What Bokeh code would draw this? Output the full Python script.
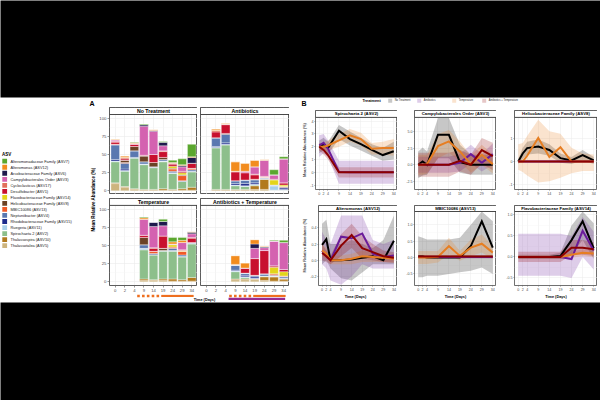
import math
from bokeh.plotting import figure
from bokeh.models import (Range1d, FixedTicker, ColumnDataSource, Spacer,
                          LinearAxis, Grid, PrintfTickFormatter)
from bokeh.layouts import row, column
from bokeh.embed import file_html
from bokeh.resources import INLINE
from bokeh.core.properties import value

FONT = "Liberation Sans"

# ---------------- data ----------------
DAYS = [0, 2, 4, 9, 14, 19, 24, 29, 34]
DAY_LABELS = ["0", "2", "4", "9", "14", "19", "24", "29", "34"]

ASV_KEYS = ["ASV7", "ASV12", "ASV6", "ASV3", "ASV17", "ASV1", "ASV14", "ASV8",
            "ASV13", "ASV4", "ASV15", "ASV11", "ASV2", "ASV10", "ASV5"]
ASV_NAMES = ["Alteromonadaceae Family (ASV7)", "Alteromonas (ASV12)",
             "Arcobacteraceae Family (ASV6)", "Campylobacterales Order (ASV3)",
             "Cycloclasticus (ASV17)", "Desulfobacter (ASV1)",
             "Flavobacteriaceae Family (ASV14)", "Helicobacteraceae Family (ASV8)",
             "MBIC10086 (ASV13)", "Neptuniibacter (ASV4)",
             "Rhodobacteraceae Family (ASV15)", "Ruegeria (ASV11)",
             "Spirochaeta 2 (ASV2)", "Thalassospira (ASV10)", "Thalassotalea (ASV5)"]
ASV_COLORS = ["#5ba72f", "#f28c1e", "#1f1a4d", "#d462b0", "#e2705c", "#c8102e",
              "#e3d41a", "#6b4226", "#f05a28", "#5a78b0", "#1c2a8c", "#a8cfea",
              "#8dbf8b", "#b27a1e", "#cdb47e"]

NO_TREATMENT = {
    "ASV5":  [10, 5, 2, 1, 1, 1, 1, 1, 1],
    "ASV10": [1, 1, 1, 1, 1, 2, 1, 2, 4],
    "ASV2":  [29, 21, 42, 34, 30, 37, 22, 10, 21],
    "ASV11": [1, 1, 1, 1, 0, 1, 1, 0, 1],
    "ASV15": [2, 2, 0, 0, 0, 0, 0, 0, 0],
    "ASV4":  [20, 8, 9, 3, 1, 2, 2, 1, 2],
    "ASV13": [1, 1, 0, 0, 0, 0, 3, 7, 2],
    "ASV8":  [0, 3, 6, 8, 6, 3, 1, 1, 0],
    "ASV14": [0, 0, 0, 0, 0, 0, 3, 3, 0],
    "ASV1":  [3, 2, 3, 1, 11, 8, 3, 2, 7],
    "ASV17": [1, 2, 0, 0, 0, 1, 0, 0, 0],
    "ASV3":  [2, 0, 1, 40, 32, 7, 1, 6, 0],
    "ASV6":  [0, 0, 0, 2, 1, 5, 0, 2, 8],
    "ASV12": [1, 2, 1, 0, 1, 0, 1, 1, 1],
    "ASV7":  [0, 0, 1, 1, 0, 1, 3, 8, 17],
}
ANTIBIOTICS = {
    "ASV5":  [0, 1, 1, 1, 1, 2, 2, 1, 1],
    "ASV10": [0, 1, 1, 1, 1, 5, 14, 0, 0],
    "ASV2":  [0, 57, 61, 5, 4, 1, 0, 0, 0],
    "ASV11": [0, 1, 1, 1, 1, 1, 1, 6, 1],
    "ASV15": [0, 1, 2, 2, 3, 2, 0, 0, 2],
    "ASV4":  [0, 12, 12, 4, 5, 4, 1, 1, 1],
    "ASV13": [0, 0, 0, 0, 0, 1, 1, 0, 1],
    "ASV8":  [0, 0, 1, 0, 0, 0, 0, 0, 0],
    "ASV14": [0, 0, 0, 0, 0, 0, 0, 7, 2],
    "ASV1":  [0, 8, 12, 12, 10, 6, 1, 1, 3],
    "ASV17": [0, 2, 1, 1, 0, 1, 0, 0, 0],
    "ASV3":  [0, 0, 0, 0, 2, 10, 22, 6, 33],
    "ASV6":  [0, 0, 0, 0, 0, 0, 0, 0, 0],
    "ASV12": [0, 2, 1, 13, 11, 9, 1, 0, 0],
    "ASV7":  [0, 0, 0, 0, 0, 0, 0, 7, 3],
}
TEMPERATURE = {
    "ASV5":  [0, 0, 0, 2, 2, 2, 1, 1, 1],
    "ASV10": [0, 0, 0, 2, 1, 2, 3, 2, 5],
    "ASV2":  [0, 0, 0, 40, 34, 38, 38, 31, 46],
    "ASV11": [0, 0, 0, 2, 0, 1, 1, 1, 1],
    "ASV15": [0, 0, 0, 0, 1, 0, 0, 0, 0],
    "ASV4":  [0, 0, 0, 5, 1, 0, 3, 2, 1],
    "ASV13": [0, 0, 0, 0, 3, 0, 2, 5, 0],
    "ASV8":  [0, 0, 0, 10, 0, 3, 0, 0, 0],
    "ASV14": [0, 0, 0, 0, 0, 0, 3, 1, 0],
    "ASV1":  [0, 0, 0, 3, 4, 17, 1, 1, 6],
    "ASV17": [0, 0, 0, 0, 1, 0, 0, 0, 1],
    "ASV3":  [0, 0, 0, 22, 29, 14, 0, 10, 5],
    "ASV6":  [0, 0, 0, 0, 6, 6, 0, 0, 2],
    "ASV12": [0, 0, 0, 2, 0, 0, 3, 3, 1],
    "ASV7":  [0, 0, 0, 1, 0, 3, 6, 4, 0],
}
ANTIBIOTICS_TEMP = {
    "ASV5":  [0, 0, 0, 3, 3, 3, 2, 1, 1],
    "ASV10": [0, 0, 0, 1, 1, 1, 5, 6, 3],
    "ASV2":  [0, 0, 0, 10, 2, 0, 1, 0, 0],
    "ASV11": [0, 0, 0, 1, 1, 1, 0, 1, 1],
    "ASV15": [0, 0, 0, 1, 2, 2, 0, 0, 0],
    "ASV4":  [0, 0, 0, 7, 3, 2, 3, 1, 2],
    "ASV13": [0, 0, 0, 0, 0, 0, 0, 2, 1],
    "ASV8":  [0, 0, 0, 0, 0, 0, 0, 0, 0],
    "ASV14": [0, 0, 0, 0, 0, 0, 0, 9, 6],
    "ASV1":  [0, 0, 0, 1, 7, 23, 32, 2, 3],
    "ASV17": [0, 0, 0, 0, 0, 0, 0, 0, 0],
    "ASV3":  [0, 0, 0, 0, 0, 14, 4, 34, 37],
    "ASV6":  [0, 0, 0, 0, 0, 6, 1, 0, 0],
    "ASV12": [0, 0, 0, 12, 7, 6, 1, 0, 0],
    "ASV7":  [0, 0, 0, 0, 0, 0, 0, 1, 3],
}

# treatment periods (panel A x-axis, category-index units)
TEMP_PULSE_POS = [2.5, 3.0, 3.5, 4.0, 4.5]
TEMP_CONT_SPAN = [4.85, 8.2]
ANTIBIOTIC_SPAN = [2.3, 8.15]

TREATMENTS = ["No Treatment", "Antibiotics", "Temperature", "Antibiotics + Temperature"]
TREAT_COLORS = ["#000000", "#6a1b9a", "#e67e22", "#8b0000"]

# panel B: (mean, lower, upper) per treatment
SPIRO = {
    "No Treatment": ([2.0, 2.2, 1.9, 3.25, 2.6, 2.2, 1.75, 1.35, 1.65],
                     [1.5, 1.7, 1.4, 2.6, 2.1, 1.7, 1.3, 0.9, 1.0],
                     [2.5, 2.7, 2.4, 3.7, 3.2, 2.7, 2.2, 1.9, 2.4]),
    "Antibiotics": ([2.1, 2.3, 1.85, 0.02, 0.0, 0.0, 0.0, 0.0, 0.0],
                    [1.2, 1.5, 1.2, -0.9, -0.9, -0.9, -0.9, -0.9, -0.9],
                    [2.9, 3.0, 2.5, 0.9, 0.9, 0.9, 0.9, 0.9, 0.9]),
    "Temperature": ([2.0, 2.0, 2.1, 2.5, 2.9, 2.6, 1.85, 1.9, 1.9],
                    [1.7, 1.7, 1.7, 2.0, 2.4, 2.1, 1.4, 1.4, 1.3],
                    [2.3, 2.3, 2.5, 3.0, 3.4, 3.1, 2.3, 2.4, 2.6]),
    "Antibiotics + Temperature": ([2.0, 1.75, 1.35, 0.0, 0.0, 0.0, 0.0, 0.0, 0.0],
                                  [1.7, 1.4, 1.0, -0.4, -0.4, -0.4, -0.4, -0.4, -0.4],
                                  [2.3, 2.1, 1.7, 0.4, 0.4, 0.4, 0.4, 0.4, 0.4]),
}
CAMPY = {
    "No Treatment": ([0.0, 0.5, 0.0, 4.5, 4.5, 0.4, 0.0, 0.0, 0.0],
                     [-2.0, -1.6, -1.5, 1.0, 1.0, -1.2, -1.5, -1.5, -1.5],
                     [2.0, 2.6, 2.0, 7.0, 7.0, 3.0, 1.5, 1.5, 1.5]),
    "Antibiotics": ([0.0, 0.0, 0.0, 0.0, 0.0, 0.3, 1.6, 0.3, 1.6],
                    [-1.2, -1.2, -1.2, -1.2, -1.2, -1.0, 0.2, -1.0, 0.0],
                    [1.2, 1.2, 1.2, 1.2, 1.2, 1.6, 3.0, 1.6, 3.2]),
    "Temperature": ([0.0, 0.0, 0.1, 2.8, 3.5, 2.0, 0.1, 1.5, 0.1],
                    [-1.5, -1.5, -1.3, 1.0, 1.8, 0.5, -1.2, 0.0, -1.3],
                    [1.5, 1.5, 1.5, 4.6, 5.2, 3.5, 1.4, 3.0, 1.5]),
    "Antibiotics + Temperature": ([0.0, 0.0, 0.0, 0.0, 0.0, 0.6, 0.0, 2.2, 1.3],
                                  [-1.8, -1.8, -1.8, -1.8, -1.8, -1.0, -1.5, 0.2, -0.8],
                                  [1.8, 1.8, 1.8, 1.8, 1.8, 2.2, 1.5, 4.0, 3.3]),
}
HELICO = {
    "No Treatment": ([0.0, 0.35, 0.58, 0.65, 0.5, 0.15, 0.05, 0.28, 0.05],
                     [-0.1, 0.1, 0.3, 0.35, 0.25, -0.05, -0.1, 0.05, -0.1],
                     [0.1, 0.6, 0.85, 0.95, 0.75, 0.35, 0.2, 0.5, 0.2]),
    "Antibiotics": ([0, 0, 0, 0, 0, 0, 0, 0, 0],
                    [0, 0, 0, 0, 0, 0, 0, 0, 0],
                    [0, 0, 0, 0, 0, 0, 0, 0, 0]),
    "Temperature": ([0.0, 0.0, 0.25, 1.02, 0.2, 0.62, 0.0, 0.0, 0.0],
                    [-0.35, -0.45, -0.6, -0.9, -0.85, -0.7, -0.5, -0.4, -0.4],
                    [0.75, 0.8, 1.1, 1.8, 1.3, 1.2, 0.6, 0.35, 0.3]),
    "Antibiotics + Temperature": ([0, 0, 0, 0, 0, 0, 0, 0, 0],
                                  [0, 0, 0, 0, 0, 0, 0, 0, 0],
                                  [0, 0, 0, 0, 0, 0, 0, 0, 0]),
}
ALTERO = {
    "No Treatment": ([0.19, 0.26, 0.0, 0.0, 0.01, 0.03, 0.05, 0.0, 0.24],
                     [-0.05, 0.0, -0.1, -0.22, -0.25, -0.15, -0.05, -0.05, -0.05],
                     [0.45, 0.5, 0.2, 0.2, 0.25, 0.2, 0.15, 0.25, 0.55]),
    "Antibiotics": ([0.12, 0.05, 0.0, 0.29, 0.27, 0.33, 0.08, 0.04, 0.06],
                    [-0.05, -0.1, -0.25, -0.3, -0.2, -0.05, -0.1, -0.1, -0.1],
                    [0.35, 0.25, 0.2, 0.55, 0.55, 0.55, 0.25, 0.2, 0.25]),
    "Temperature": ([0.12, 0.08, 0.0, 0.0, 0.02, 0.05, 0.04, 0.03, 0.02],
                    [0.05, 0.02, -0.05, -0.05, -0.05, -0.02, -0.02, -0.02, -0.03],
                    [0.2, 0.15, 0.05, 0.06, 0.08, 0.12, 0.1, 0.08, 0.07]),
    "Antibiotics + Temperature": ([0.09, 0.05, 0.0, 0.18, 0.31, 0.15, 0.1, 0.05, 0.03],
                                  [0.0, -0.02, -0.05, 0.05, 0.15, 0.02, 0.0, -0.02, -0.03],
                                  [0.2, 0.12, 0.06, 0.32, 0.45, 0.3, 0.2, 0.12, 0.1]),
}
MBIC = {
    "No Treatment": ([0.03, 0.03, 0.0, 0.0, 0.0, 0.0, 0.35, 1.1, 0.3],
                     [-0.6, -0.6, -0.55, -0.55, -0.5, -0.45, -0.4, -0.3, -0.5],
                     [0.65, 0.6, 0.55, 0.55, 0.55, 0.6, 1.0, 1.4, 1.1]),
    "Antibiotics": ([0.02, 0.02, 0.02, 0.02, 0.02, 0.02, 0.02, 0.02, 0.02],
                    [-0.02, -0.02, -0.02, -0.02, -0.02, -0.02, -0.02, -0.02, -0.02],
                    [0.06, 0.06, 0.06, 0.06, 0.06, 0.06, 0.06, 0.06, 0.06]),
    "Temperature": ([0.0, 0.0, 0.0, 0.02, 0.35, 0.05, 0.3, 0.42, 0.15],
                    [-0.2, -0.2, -0.2, -0.15, 0.1, -0.1, 0.05, 0.15, -0.05],
                    [0.2, 0.2, 0.2, 0.2, 0.6, 0.2, 0.55, 0.7, 0.35]),
    "Antibiotics + Temperature": ([0.03, 0.03, 0.03, 0.03, 0.03, 0.03, 0.03, 0.03, 0.03],
                                  [-0.02, -0.02, -0.02, -0.02, -0.02, -0.02, -0.02, -0.02, -0.02],
                                  [0.08, 0.08, 0.08, 0.08, 0.08, 0.08, 0.08, 0.08, 0.08]),
}
FLAVO = {
    "No Treatment": ([0.0, 0.0, 0.0, 0.0, 0.0, 0.02, 0.4, 0.85, 0.2],
                     [-0.05, -0.05, -0.05, -0.05, -0.05, -0.05, 0.05, 0.4, -0.05],
                     [0.05, 0.05, 0.05, 0.05, 0.05, 0.1, 0.75, 1.08, 0.8]),
    "Antibiotics": ([0.0, 0.0, 0.0, 0.0, 0.0, 0.0, -0.05, 0.62, 0.15],
                    [-0.45, -0.45, -0.45, -0.45, -0.45, -0.45, -0.5, 0.0, -0.3],
                    [0.55, 0.55, 0.55, 0.55, 0.55, 0.55, 0.5, 0.95, 0.6]),
    "Temperature": ([0.0, 0.0, 0.0, 0.0, 0.0, 0.0, 0.05, 0.1, 0.08],
                    [-0.04, -0.04, -0.04, -0.04, -0.04, -0.04, -0.02, 0.02, 0.0],
                    [0.04, 0.04, 0.04, 0.04, 0.04, 0.04, 0.12, 0.18, 0.16]),
    "Antibiotics + Temperature": ([0.0, 0.0, 0.0, 0.0, 0.0, 0.0, 0.22, 0.22, 0.18],
                                  [-0.12, -0.12, -0.12, -0.12, -0.12, -0.12, 0.05, 0.05, 0.02],
                                  [0.12, 0.12, 0.12, 0.12, 0.12, 0.12, 0.4, 0.4, 0.35]),
}

# ---------------- helpers ----------------
STACK = list(reversed(ASV_KEYS))
COLOR_OF = dict(zip(ASV_KEYS, ASV_COLORS))


def base(w, h, xr=None, yr=None, bg="white"):
    return figure(width=w, height=h, toolbar_location=None, output_backend="svg",
                  x_range=xr if xr is not None else Range1d(0, w),
                  y_range=yr if yr is not None else Range1d(h, 0),
                  x_axis_type=None, y_axis_type=None, min_border=0,
                  background_fill_color=bg, border_fill_color=bg,
                  outline_line_color=None)


def style_axis(ax, fs):
    ax.major_label_text_font = FONT
    ax.major_label_text_font_size = fs
    ax.major_label_text_color = "#4d4d4d"
    ax.major_tick_out = 2
    ax.major_tick_in = 0
    ax.minor_tick_out = 0
    ax.minor_tick_in = 0
    ax.major_tick_line_color = "#333333"
    ax.major_tick_line_width = 0.5
    ax.axis_line_color = None
    ax.major_label_standoff = 1
    ax.axis_label_text_font = FONT
    ax.axis_label_text_font_style = "bold"
    ax.axis_label_text_font_size = "3.8px"
    ax.axis_label_standoff = 1


def add_strip(p, xlo, xhi, ybot, ytop, text, fs):
    p.quad(left=[xlo], right=[xhi], bottom=[ybot], top=[ytop],
           fill_color="white", line_color="#1a1a1a", line_width=0.8)
    p.text(x=[(xlo + xhi) / 2], y=[(ybot + ytop) / 2], text=[text],
           text_font=value(FONT), text_font_size=fs, text_font_style="bold",
           text_align="center", text_baseline="middle", text_color="black")


FW = 89          # facet frame width, panel A
XLO, XHI = -0.6, 8.6
YLO, YHI = -5, 105
PXU = FW / (XHI - XLO)     # pixels per category unit
A_LEFT = [108, 200]        # page x of the facet frames' left edges


def a_facet(bars, title, left_b, panel_h, strip_h, bottom_b, show_y, show_x):
    ytop = YHI + strip_h * (YHI - YLO) / panel_h
    p = base(left_b + FW, strip_h + panel_h + bottom_b,
             xr=Range1d(XLO, XHI), yr=Range1d(YLO, ytop))
    p.min_border_left = left_b
    p.min_border_bottom = bottom_b
    p.outline_line_color = "#333333"
    p.outline_line_width = 0.8
    p.add_layout(Grid(dimension=0, ticker=FixedTicker(ticks=list(range(9))),
                      grid_line_color="#ebebeb", grid_line_width=0.6))
    p.add_layout(Grid(dimension=1, ticker=FixedTicker(ticks=[0, 25, 50, 75, 100],
                                                      minor_ticks=[12.5, 37.5, 62.5, 87.5]),
                      grid_line_color="#ebebeb", grid_line_width=0.6,
                      minor_grid_line_color="#f4f4f4", minor_grid_line_width=0.4))
    xs = [i for i in range(9) if sum(bars[k][i] for k in ASV_KEYS) > 0]
    src = {"x": xs}
    for k in STACK:
        src[k] = [bars[k][i] for i in xs]
    p.vbar_stack(STACK, x="x", width=0.9, source=ColumnDataSource(src),
                 fill_color=[COLOR_OF[k] for k in STACK],
                 line_color="white", line_width=0.35)
    add_strip(p, XLO, XHI, YHI, ytop, title, "5.2px")
    if show_y:
        ax = LinearAxis(ticker=FixedTicker(ticks=[0, 25, 50, 75, 100]))
        style_axis(ax, "4.3px")
        p.add_layout(ax, "left")
    if show_x:
        ax = LinearAxis(ticker=FixedTicker(ticks=list(range(9))),
                        major_label_overrides={i: DAY_LABELS[i] for i in range(9)})
        style_axis(ax, "4.2px")
        p.add_layout(ax, "below")
    return p


BX = (-1.7, 35.7)


def b_panel(spec, title, yr, ticks, fmt, frame_w, left_b, panel_h, strip_h, bottom_b, ytitle):
    ylo, yhi = yr
    ytop = yhi + strip_h * (yhi - ylo) / panel_h
    p = base(left_b + frame_w, strip_h + panel_h + bottom_b,
             xr=Range1d(*BX), yr=Range1d(ylo, ytop))
    p.min_border_left = left_b
    p.min_border_bottom = bottom_b
    p.outline_line_color = "#333333"
    p.outline_line_width = 0.7
    minors = [(a + b) / 2 for a, b in zip(ticks[:-1], ticks[1:])]
    p.add_layout(Grid(dimension=0, ticker=FixedTicker(ticks=DAYS),
                      grid_line_color="#ebebeb", grid_line_width=0.5))
    p.add_layout(Grid(dimension=1, ticker=FixedTicker(ticks=ticks, minor_ticks=minors),
                      grid_line_color="#ebebeb", grid_line_width=0.5,
                      minor_grid_line_color="#f4f4f4", minor_grid_line_width=0.4))
    for t, c in zip(TREATMENTS, TREAT_COLORS):
        m, lo, hi = spec[t]
        p.varea(x=DAYS, y1=lo, y2=hi, fill_color=c, fill_alpha=0.22)
    for t, c in zip(TREATMENTS, TREAT_COLORS):
        m, lo, hi = spec[t]
        p.line(x=DAYS, y=m, line_color=c, line_width=2, line_join="miter")
    add_strip(p, BX[0], BX[1], yhi, ytop, title, "4.3px")
    ay = LinearAxis(ticker=FixedTicker(ticks=ticks), formatter=PrintfTickFormatter(format=fmt))
    style_axis(ay, "3.6px")
    ay.major_label_standoff = 1
    ay.major_tick_out = 1
    ay.axis_label_standoff = 0
    if ytitle:
        ay.axis_label = "Mean Relative Abundance (%)"
    p.add_layout(ay, "left")
    ax = LinearAxis(ticker=FixedTicker(ticks=DAYS))
    style_axis(ax, "3.6px")
    ax.major_label_standoff = 1
    ax.major_tick_out = 1
    p.add_layout(ax, "below")
    return p


# ---------------- top band: black + panel labels + treatment legend (page y 0..107) ----------------
top = base(600, 107)
top.quad(left=[-10], right=[610], top=[-10], bottom=[97], fill_color="black", line_color=None)
top.text(x=[91.5], y=[103.3], text=["A"], text_font=value(FONT), text_font_size="7px",
         text_font_style="bold", text_align="center", text_baseline="middle")
top.text(x=[303.5], y=[103.3], text=["B"], text_font=value(FONT), text_font_size="7px",
         text_font_style="bold", text_align="center", text_baseline="middle")
top.text(x=[362], y=[100.3], text=["Treatment"], text_font=value(FONT), text_font_size="3.8px",
         text_font_style="bold", text_align="left", text_baseline="middle")
SW_X = [389.7, 418.7, 453.7, 483.7]
top.rect(x=SW_X, y=100.3, width=4, height=4, fill_color=TREAT_COLORS, fill_alpha=0.22,
         line_color=None)
top.text(x=[s + 4.5 for s in SW_X], y=100.3, text=TREATMENTS, text_font=value(FONT),
         text_font_size="2.6px", text_baseline="middle", text_align="left", text_color="#1a1a1a")

# ---------------- middle (page y 107..294) ----------------
leg = base(96, 187)
leg_y = [53.7 + 6.03 * i for i in range(len(ASV_NAMES))]
leg.rect(x=4.2, y=leg_y, width=4.8, height=4.8, fill_color=ASV_COLORS, line_color=None)
leg.text(x=10, y=leg_y, text=ASV_NAMES, text_font=value(FONT), text_font_size="3.9px",
         text_baseline="middle", text_align="left", text_color="#1a1a1a")
leg.text(x=[1.5], y=[46.5], text=["ASV"], text_font=value(FONT), text_font_size="4.5px",
         text_font_style="bold", text_baseline="middle", text_align="left")
leg.text(x=[93], y=[92], text=["Mean Relative Abundance (%)"], text_font=value(FONT),
         text_font_size="4.5px", text_font_style="bold", angle=math.pi / 2,
         text_align="center", text_baseline="middle")

f_nt = a_facet(NO_TREATMENT, "No Treatment", 12, 80, 7, 0, True, False)
f_ab = a_facet(ANTIBIOTICS, "Antibiotics", 3, 80, 7, 0, False, False)
f_t = a_facet(TEMPERATURE, "Temperature", 12, 81, 7, 8, True, True)
f_abt = a_facet(ANTIBIOTICS_TEMP, "Antibiotics + Temperature", 3, 81, 7, 8, False, True)

a_grid = column(
    row(f_nt, f_ab, Spacer(width=11, height=87)),
    Spacer(width=204, height=4),
    row(f_t, f_abt, Spacer(width=11, height=96)),
)

COLW = [84, 82, 83]
COLB = [13, 17, 18]
p1 = b_panel(SPIRO, "Spirochaeta 2 (ASV2)", (-1.35, 4.3), [-1, 0, 1, 2, 3, 4], "%d",
             COLW[0], COLB[0], 73, 7, 7, True)
p2 = b_panel(CAMPY, "Campylobacterales Order (ASV3)", (-3.7, 7.1), [-2.5, 0, 2.5, 5.0], "%.1f",
             COLW[1], COLB[1], 73, 7, 7, False)
p3 = b_panel(HELICO, "Helicobacteraceae Family (ASV8)", (-1.2, 1.9), [-1, 0, 1], "%d",
             COLW[2], COLB[2], 73, 7, 7, False)
p4 = b_panel(ALTERO, "Alteromonas (ASV12)", (-0.31, 0.6), [-0.2, 0.0, 0.2, 0.4], "%.1f",
             COLW[0], COLB[0], 74, 6, 9, True)
p5 = b_panel(MBIC, "MBIC10086 (ASV13)", (-0.85, 1.4), [-0.5, 0.0, 0.5, 1.0], "%.1f",
             COLW[1], COLB[1], 74, 6, 9, False)
p6 = b_panel(FLAVO, "Flavobacteriaceae Family (ASV14)", (-0.68, 1.08), [-0.5, 0.0, 0.5, 1.0], "%.1f",
             COLW[2], COLB[2], 74, 6, 9, False)

b_grid = column(
    Spacer(width=300, height=3),
    row(p1, p2, p3, Spacer(width=3, height=87)),
    Spacer(width=300, height=8),
    row(p4, p5, p6, Spacer(width=3, height=89)),
)

# ---------------- bottom band: treatment marks, x titles, black (page y 294..400) ----------------
ORANGE = "#ee6f1f"
PURPLE = "#982b8f"
bottom = base(600, 106)
bottom.extra_x_ranges = {
    "temp": Range1d(XLO - A_LEFT[0] / PXU, XLO + (600 - A_LEFT[0]) / PXU),
    "abt": Range1d(XLO - A_LEFT[1] / PXU, XLO + (600 - A_LEFT[1]) / PXU),
}
bottom.quad(left=[-10], right=[610], top=[8], bottom=[120], fill_color="black", line_color=None)
for rn in ["temp", "abt"]:
    bottom.scatter(x=TEMP_PULSE_POS, y=[1.4] * len(TEMP_PULSE_POS), marker="square", size=2.6,
                   fill_color=ORANGE, line_color=None, x_range_name=rn)
    bottom.segment(x0=[TEMP_CONT_SPAN[0]], x1=[TEMP_CONT_SPAN[1]], y0=[1.4], y1=[1.4],
                   line_color=ORANGE, line_width=2.4, x_range_name=rn)
bottom.segment(x0=[ANTIBIOTIC_SPAN[0]], x1=[ANTIBIOTIC_SPAN[1]], y0=[4.4], y1=[4.4],
               line_color=PURPLE, line_width=2.4, x_range_name="abt")
bottom.text(x=[204], y=[5.4], text=["Time (Days)"], text_font=value(FONT), text_font_size="3.8px",
            text_font_style="bold", text_align="center", text_baseline="middle")
b_centers = []
xpos = 300
for w, b in zip(COLW, COLB):
    b_centers.append(xpos + b + w / 2)
    xpos += b + w
bottom.text(x=b_centers, y=2.3, text=["Time (Days)"] * 3, text_font=value(FONT),
            text_font_size="3.8px", text_font_style="bold", text_align="center",
            text_baseline="middle")

root = column(top, row(leg, a_grid, b_grid), bottom)

open("out.html", "w").write(file_html(root, INLINE))
